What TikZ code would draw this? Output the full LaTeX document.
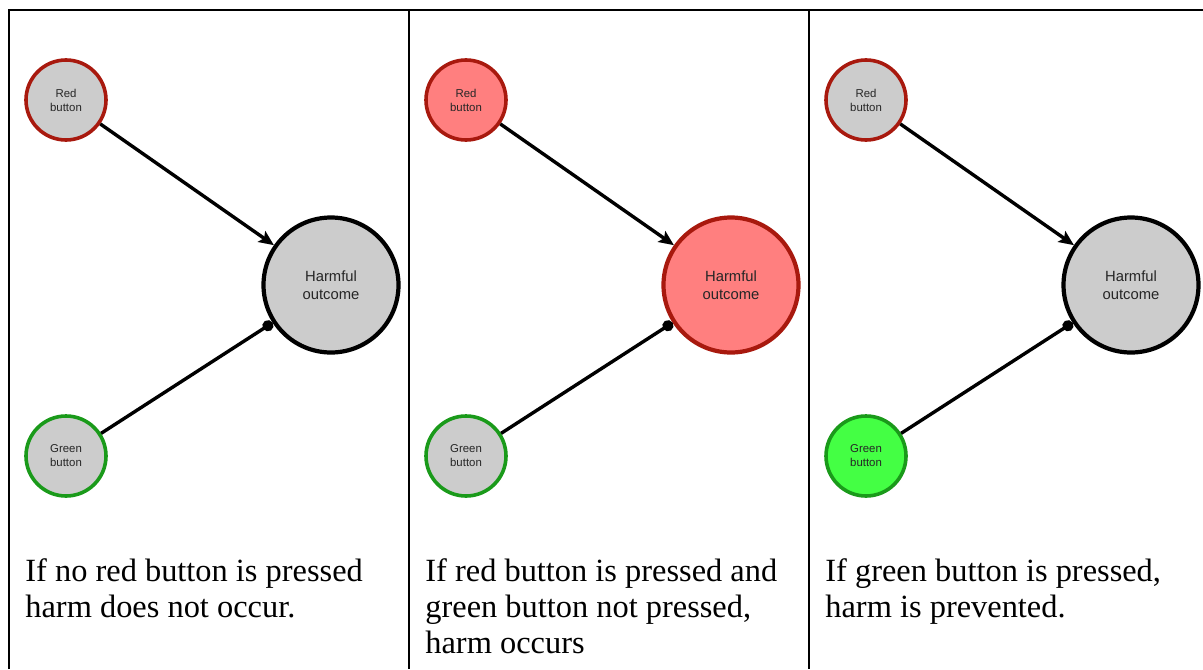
\documentclass[tikz,border=0pt]{standalone}
\usepackage{fontspec}
\setmainfont{Liberation Serif}
\newfontfamily\labelfont{Liberation Sans}
\usetikzlibrary{positioning,arrows.meta}
\definecolor{nodegray}{HTML}{CCCCCC}
\definecolor{pressedred}{HTML}{FF7F7F}
\definecolor{rededge}{HTML}{A8190E}
\definecolor{greenedge}{HTML}{1A9A1A}
\definecolor{pressedgreen}{HTML}{44FF44}
\begin{document}
\begin{tikzpicture}[x=0.5pt, y=-0.5pt,
        buttonnode/.style={circle, minimum size=40pt, inner sep=0pt, line width=1.8pt, fill=nodegray, text=black!85, align=center, font=\labelfont\fontsize{5.7}{7}\selectfont},
        rednode/.style={buttonnode, draw=rededge},
        greennode/.style={buttonnode, draw=greenedge},
        outcomenode/.style={circle, minimum size=67.5pt, inner sep=0pt, line width=2.1pt, draw=black, fill=nodegray, text=black!85, align=center, font=\labelfont\fontsize{7.4}{9}\selectfont},
        causeline/.style={line width=1.7pt, -{Stealth[length=7.5pt, width=6.5pt, inset=1.5pt]}},
        preventline/.style={line width=1.7pt, -{Circle[length=5.5pt]}},
        captionnode/.style={anchor=north west, inner sep=0pt, align=left, font=\fontsize{16.2}{18}\selectfont},
        tableline/.style={line width=1.1pt},
        ]
        \useasboundingbox (0,0) rectangle (1203,669);
        %Table
        \draw[tableline] (9,669) -- (9,10) -- (1203,10);
        \draw[tableline] (409,10) -- (409,669);
        \draw[tableline] (809,10) -- (809,669);

        %Nodes
        \node[rednode] (r1) at (66,100) {Red\\button};
        \node[greennode] (g1) at (66,456) {Green\\button};
        \node[outcomenode] (h1) at (331,285) {Harmful\\outcome};

        \node[rednode, fill=pressedred] (r2) at (466,100) {Red\\button};
        \node[greennode] (g2) at (466,456) {Green\\button};
        \node[outcomenode, draw=rededge, fill=pressedred] (h2) at (731,285) {Harmful\\outcome};

        \node[rednode] (r3) at (866,100) {Red\\button};
        \node[greennode, fill=pressedgreen] (g3) at (866,456) {Green\\button};
        \node[outcomenode] (h3) at (1131,285) {Harmful\\outcome};

        \node[captionnode] (c1) at (25,558) {If no red button is pressed\\harm does not occur.};
        \node[captionnode] (c2) at (425,558) {If red button is pressed and\\green button not pressed,\\harm occurs};
        \node[captionnode] (c3) at (825,558) {If green button is pressed,\\harm is prevented.};

        %Lines
        \draw[causeline] (r1) -- (h1);
        \draw[preventline] (g1) -- (h1);
        \draw[causeline] (r2) -- (h2);
        \draw[preventline] (g2) -- (h2);
        \draw[causeline] (r3) -- (h3);
        \draw[preventline] (g3) -- (h3);
    \end{tikzpicture}
\end{document}
